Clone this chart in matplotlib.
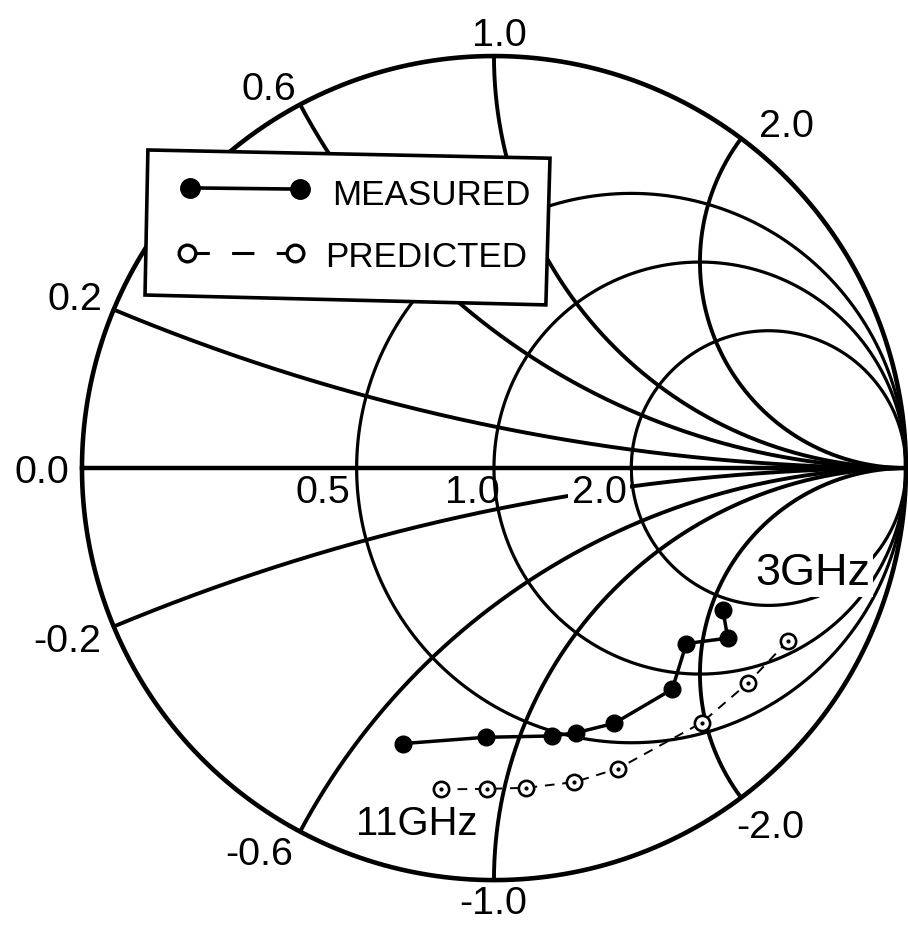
import numpy as np
import matplotlib
matplotlib.use("Agg")
import matplotlib.pyplot as plt
from matplotlib import font_manager
from matplotlib.patches import Polygon

# ---------------------------------------------------------------------------
# Data: normalized input impedance z = r + jx, swept 3 GHz -> 11 GHz
# ---------------------------------------------------------------------------
measured_r = [1.81, 1.42, 1.29, 0.86, 0.60, 0.52, 0.48, 0.39, 0.26]
measured_x = [-2.18, -2.31, -1.83, -1.76, -1.40, -1.22, -1.12, -0.89, -0.69]

predicted_r = [1.22, 0.83, 0.58, 0.37, 0.31, 0.27, 0.24, 0.20]
predicted_x = [-3.25, -2.49, -1.97, -1.43, -1.24, -1.07, -0.95, -0.83]

series_labels = ["MEASURED", "PREDICTED"]
freq_labels = ["3GHz", "11GHz"]

# Smith chart grid
resistance_values = [0.5, 1.0, 2.0]
reactance_values = [0.2, 0.6, 1.0, 2.0]

# Grid labels: text and anchor (u, v) on the reflection-coefficient plane
reactance_labels = ["0.0", "0.2", "0.6", "1.0", "2.0", "-0.2", "-0.6", "-1.0", "-2.0"]
reactance_label_pos = [(-1.097, -0.036), (-1.017, 0.383), (-0.546, 0.893),
                       (0.012, 1.024), (0.711, 0.803), (-1.036, -0.447),
                       (-0.570, -0.964), (-0.002, -1.083), (0.670, -0.898)]
resistance_labels = ["0.5", "1.0", "2.0"]
resistance_label_pos = [(-0.415, -0.085), (-0.053, -0.085), (0.255, -0.085)]


def gamma(z):
    """Reflection coefficient of a normalized impedance."""
    return (z - 1) / (z + 1)


# ---------------------------------------------------------------------------
# Fonts
# ---------------------------------------------------------------------------
available = {f.name for f in font_manager.fontManager.ttflist}


def pick(*names):
    for n in names:
        if n in available:
            return n
    return "DejaVu Sans"


DIGIT_FONT = pick("Liberation Sans", "Arial", "DejaVu Sans")
if "Liberation Sans Narrow" in available:
    WORD_FONT, WORD_SCALE = "Liberation Sans Narrow", 1.0
else:
    WORD_FONT, WORD_SCALE = DIGIT_FONT, 0.9

# ---------------------------------------------------------------------------
# Figure
# ---------------------------------------------------------------------------
fig = plt.figure(figsize=(9.08, 9.25), dpi=100)
ax = fig.add_axes([0, 0, 1, 1])
ax.set_xlim(-1.199, 1.005)
ax.set_ylim(-1.109, 1.136)
ax.axis("off")

theta = np.linspace(0, 2 * np.pi, 1200)

# outer boundary (r = 0) and real axis
ax.plot(np.cos(theta), np.sin(theta), color="k", lw=3.3, zorder=2,
        solid_capstyle="round")
ax.plot([-1, 1], [0, 0], color="k", lw=3.2, zorder=2)

# constant-resistance circles
for r in resistance_values:
    c, rho = r / (1 + r), 1 / (1 + r)
    ax.plot(c + rho * np.cos(theta), rho * np.sin(theta), color="k", lw=2.3,
            zorder=1)

# constant-reactance arcs (both signs)
r_sweep = np.concatenate([[0.0], np.geomspace(1e-3, 1e5, 4000)])
for x in reactance_values:
    for sign in (1, -1):
        g = gamma(r_sweep + 1j * sign * x)
        g = np.append(g, 1 + 0j)
        ax.plot(g.real, g.imag, color="k", lw=2.8, zorder=1,
                solid_capstyle="round")

# grid labels
for txt, (u, v) in zip(reactance_labels, reactance_label_pos):
    ax.text(u, v, txt, fontsize=28.4, family=DIGIT_FONT, ha="center",
            va="baseline", zorder=3)
for txt, (u, v) in zip(resistance_labels, resistance_label_pos):
    box = None
    if txt == "2.0":
        box = dict(boxstyle="square,pad=0.1", fc="white", ec="none")
    ax.text(u, v, txt, fontsize=28.4, family=DIGIT_FONT, ha="center",
            va="baseline", zorder=3, bbox=box)

# frequency annotations
ax.text(0.775, -0.284, freq_labels[0], fontsize=36 * WORD_SCALE,
        family=WORD_FONT, ha="center", va="baseline", zorder=3,
        bbox=dict(boxstyle="square,pad=0.06", fc="white", ec="none"))
ax.text(-0.187, -0.891, freq_labels[1], fontsize=32 * WORD_SCALE,
        family=WORD_FONT, ha="center", va="baseline", zorder=3)

# ---------------------------------------------------------------------------
# Impedance loci
# ---------------------------------------------------------------------------
g_meas = gamma(np.array(measured_r) + 1j * np.array(measured_x))
g_pred = gamma(np.array(predicted_r) + 1j * np.array(predicted_x))

ax.plot(g_meas.real, g_meas.imag, color="k", lw=2.5, marker="o", ms=12,
        zorder=6)
ax.plot(g_pred.real, g_pred.imag, color="k", lw=1.4, ls=(0, (5, 4)),
        marker="o", ms=11, mfc="white", mec="k", mew=1.9, zorder=6)
ax.plot(g_pred.real, g_pred.imag, ls="none", marker="o", ms=2, color="k",
        zorder=7)

# ---------------------------------------------------------------------------
# Legend box
# ---------------------------------------------------------------------------
box_corners = [(-0.840, 0.772), (0.136, 0.752), (0.126, 0.396), (-0.847, 0.420)]
ax.add_patch(Polygon(box_corners, closed=True, fc="white", ec="k", lw=2.6,
                     zorder=4, joinstyle="miter"))

ax.plot([-0.738, -0.471], [0.680, 0.677], color="k", lw=2.6, marker="o",
        ms=14, zorder=5)
ax.text(-0.393, 0.638, series_labels[0], fontsize=28 * WORD_SCALE,
        family=WORD_FONT, ha="left", va="baseline", zorder=5)

ax.plot([-0.745, -0.483], [0.522, 0.522], color="k", lw=2.2, ls=(0, (7.3, 7.3)),
        marker="o", ms=12, mfc="white", mec="k", mew=2.4, zorder=5)
ax.text(-0.410, 0.488, series_labels[1], fontsize=28 * WORD_SCALE,
        family=WORD_FONT, ha="left", va="baseline", zorder=5)

fig.savefig("out.png", dpi=100, facecolor="white")
